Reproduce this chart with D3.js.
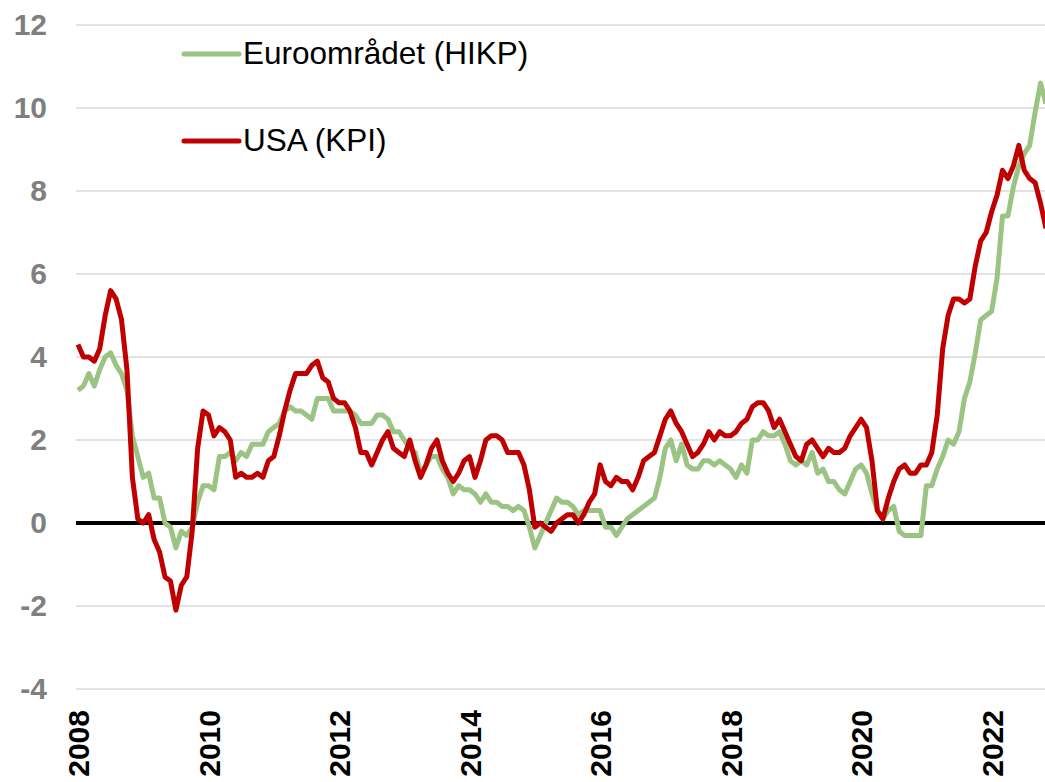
<!DOCTYPE html>
<html lang="sv">
<head>
    <meta charset="UTF-8">
    <title>Inflation</title>
    <style>
        body { margin: 0; background: #fff; }
        svg { display: block; font-family: "Liberation Sans", Arial, sans-serif; }
    </style>
</head>
<body>
    <svg width="1045" height="782" id="svg"></svg>
    <script src="https://d3js.org/d3.v7.min.js"></script>
    <script>
        // monthly yoy, Jan 2008 - Nov 2022
        let startYear = 2008
        let euro = [
            3.2, 3.3, 3.6, 3.3, 3.7, 4.0, 4.1, 3.8, 3.6, 3.2, 2.1, 1.6,
            1.1, 1.2, 0.6, 0.6, 0.0, -0.1, -0.6, -0.2, -0.3, -0.1, 0.5, 0.9,
            0.9, 0.8, 1.6, 1.6, 1.7, 1.5, 1.7, 1.6, 1.9, 1.9, 1.9, 2.2,
            2.3, 2.4, 2.7, 2.8, 2.7, 2.7, 2.6, 2.5, 3.0, 3.0, 3.0, 2.7,
            2.7, 2.7, 2.7, 2.6, 2.4, 2.4, 2.4, 2.6, 2.6, 2.5, 2.2, 2.2,
            2.0, 1.8, 1.7, 1.2, 1.4, 1.6, 1.6, 1.3, 1.1, 0.7, 0.9, 0.8,
            0.8, 0.7, 0.5, 0.7, 0.5, 0.5, 0.4, 0.4, 0.3, 0.4, 0.3, -0.1,
            -0.6, -0.3, 0.0, 0.3, 0.6, 0.5, 0.5, 0.4, 0.2, 0.3, 0.3, 0.3,
            0.3, -0.1, -0.1, -0.3, -0.1, 0.1, 0.2, 0.3, 0.4, 0.5, 0.6, 1.1,
            1.8, 2.0, 1.5, 1.9, 1.4, 1.3, 1.3, 1.5, 1.5, 1.4, 1.5, 1.4,
            1.3, 1.1, 1.4, 1.2, 2.0, 2.0, 2.2, 2.1, 2.1, 2.2, 1.9, 1.5,
            1.4, 1.5, 1.4, 1.7, 1.2, 1.3, 1.0, 1.0, 0.8, 0.7, 1.0, 1.3,
            1.4, 1.2, 0.7, 0.3, 0.1, 0.3, 0.4, -0.2, -0.3, -0.3, -0.3, -0.3,
            0.9, 0.9, 1.3, 1.6, 2.0, 1.9, 2.2, 3.0, 3.4, 4.1, 4.9, 5.0,
            5.1, 5.9, 7.4, 7.4, 8.1, 8.6, 8.9, 9.1, 9.9, 10.6, 10.1
        ]
        let usa = [
            4.3, 4.0, 4.0, 3.9, 4.2, 5.0, 5.6, 5.4, 4.9, 3.7, 1.1, 0.1,
            0.0, 0.2, -0.4, -0.7, -1.3, -1.4, -2.1, -1.5, -1.3, -0.2, 1.8, 2.7,
            2.6, 2.1, 2.3, 2.2, 2.0, 1.1, 1.2, 1.1, 1.1, 1.2, 1.1, 1.5,
            1.6, 2.1, 2.7, 3.2, 3.6, 3.6, 3.6, 3.8, 3.9, 3.5, 3.4, 3.0,
            2.9, 2.9, 2.7, 2.3, 1.7, 1.7, 1.4, 1.7, 2.0, 2.2, 1.8, 1.7,
            1.6, 2.0, 1.5, 1.1, 1.4, 1.8, 2.0, 1.5, 1.2, 1.0, 1.2, 1.5,
            1.6, 1.1, 1.5, 2.0, 2.1, 2.1, 2.0, 1.7, 1.7, 1.7, 1.4, 0.8,
            -0.1, 0.0, -0.1, -0.2, 0.0, 0.1, 0.2, 0.2, 0.0, 0.2, 0.5, 0.7,
            1.4, 1.0, 0.9, 1.1, 1.0, 1.0, 0.8, 1.1, 1.5, 1.6, 1.7, 2.1,
            2.5, 2.7, 2.4, 2.2, 1.9, 1.6, 1.7, 1.9, 2.2, 2.0, 2.2, 2.1,
            2.1, 2.2, 2.4, 2.5, 2.8, 2.9, 2.9, 2.7, 2.3, 2.5, 2.2, 1.9,
            1.6, 1.5, 1.9, 2.0, 1.8, 1.6, 1.8, 1.7, 1.7, 1.8, 2.1, 2.3,
            2.5, 2.3, 1.5, 0.3, 0.1, 0.6, 1.0, 1.3, 1.4, 1.2, 1.2, 1.4,
            1.4, 1.7, 2.6, 4.2, 5.0, 5.4, 5.4, 5.3, 5.4, 6.2, 6.8, 7.0,
            7.5, 7.9, 8.5, 8.3, 8.6, 9.1, 8.5, 8.3, 8.2, 7.7, 7.1
        ]
        let yTicks = [-4, -2, 0, 2, 4, 6, 8, 10, 12]
        let yearTicks = [2008, 2010, 2012, 2014, 2016, 2018, 2020, 2022]
        let seriesNames = ["Euroområdet (HIKP)", "USA (KPI)"]
        let colors = ["#9bc383", "#c00000"]

        var svg = d3.select("svg"),
            width = +svg.attr("width"),
            height = +svg.attr("height")

        var xScale = d3.scaleLinear().domain([0, 178]).range([78, 1046])
        var yScale = d3.scaleLinear().domain([-4, 12]).range([689, 25])

        svg.append("clipPath").attr("id", "clip")
            .append("rect").attr("x", 0).attr("y", 0).attr("width", width).attr("height", height)

        // gridlines
        svg.append("g")
            .selectAll("line")
            .data(yTicks.filter(d => d != 0))
            .enter()
            .append("line")
            .attr("x1", 76).attr("x2", width)
            .attr("y1", d => yScale(d)).attr("y2", d => yScale(d))
            .attr("stroke", "#d9d9d9")
            .attr("stroke-width", 1.5)

        // y axis labels (plain hyphen for negatives)
        var yAxis = svg.append("g")
            .attr("transform", "translate(76,0)")
            .call(d3.axisLeft(yScale).tickValues(yTicks).tickFormat(d => String(d)).tickSize(0).tickPadding(29))
        yAxis.select(".domain").remove()
        yAxis.selectAll("text")
            .attr("font-size", 30)
            .attr("font-weight", "bold")
            .attr("fill", "#7f7f7f")
            .attr("font-family", "Liberation Sans, Arial, sans-serif")

        // x axis labels, rotated
        var xAxis = svg.append("g")
            .attr("transform", "translate(0,710)")
            .call(d3.axisBottom(xScale)
                .tickValues(yearTicks.map(y => (y - startYear) * 12))
                .tickFormat(d => startYear + d / 12)
                .tickSize(0))
        xAxis.select(".domain").remove()
        xAxis.selectAll("text")
            .attr("transform", "rotate(-90)")
            .attr("x", 0).attr("y", 0)
            .attr("dy", "0.35em")
            .attr("text-anchor", "end")
            .attr("font-size", 30)
            .attr("font-weight", "bold")
            .attr("fill", "#000")
            .attr("font-family", "Liberation Sans, Arial, sans-serif")

        // zero line
        svg.append("line")
            .attr("x1", 76).attr("x2", width)
            .attr("y1", yScale(0)).attr("y2", yScale(0))
            .attr("stroke", "#000")
            .attr("stroke-width", 4)

        var line = d3.line()
            .x((d, i) => xScale(i))
            .y(d => yScale(d))

        var g = svg.append("g").attr("clip-path", "url(#clip)")
        ;[euro, usa].forEach(function (s, k) {
            g.append("path")
                .datum(s)
                .attr("fill", "none")
                .attr("stroke", colors[k])
                .attr("stroke-width", 5)
                .attr("stroke-linejoin", "round")
                .attr("d", line)
        })

        // legend
        var legend = svg.append("g")
        seriesNames.forEach(function (name, k) {
            var ly = 54 + k * 87
            legend.append("line")
                .attr("x1", 184).attr("x2", 239)
                .attr("y1", ly).attr("y2", ly)
                .attr("stroke", colors[k])
                .attr("stroke-width", 5)
                .attr("stroke-linecap", "round")
            legend.append("text")
                .attr("x", 243).attr("y", ly + 10)
                .attr("font-size", 31.5)
                .attr("fill", "#000")
                .text(name)
        })
    </script>
</body>
</html>
